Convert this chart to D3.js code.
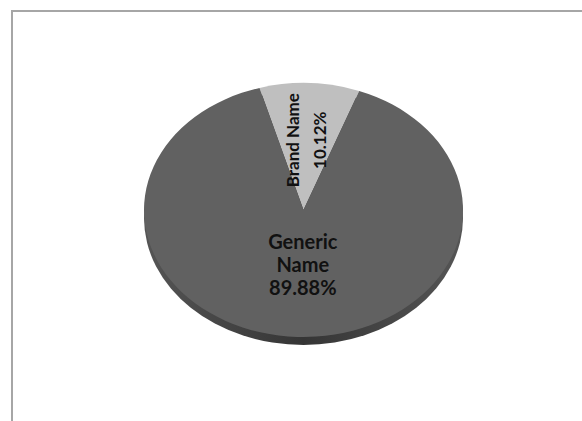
<!DOCTYPE html>
<html>
<head>
<meta charset="utf-8">
<script src="https://cdn.jsdelivr.net/npm/d3@7/dist/d3.min.js"></script>
<style>
  html, body { margin: 0; padding: 0; background: #ffffff; }
  svg { display: block; }
</style>
</head>
<body>
<svg id="chart" width="582" height="421"></svg>
<script>
// ---- data ----
const categories = ["Brand Name", "Generic Name"];
const values = [10.12, 89.88];
const percentLabels = ["10.12%", "89.88%"];
const sliceColors = ["#bfbfbf", "#616161"];

// ---- layout ----
const W = 582, H = 421;
const cx = 303.5, cy = 210;
const rx = 159.5, ry = 127;
const depth = 8;
const startDeg = -16;

const svg = d3.select("#chart");

// frame: top and left lines only
svg.append("line").attr("x1", 12).attr("y1", 11).attr("x2", W).attr("y2", 11)
  .attr("stroke", "#a6a6a6").attr("stroke-width", 2);
svg.append("line").attr("x1", 12).attr("y1", 10).attr("x2", 12).attr("y2", H)
  .attr("stroke", "#a6a6a6").attr("stroke-width", 2);

const data = categories.map((c, i) => ({ name: c, value: values[i], pct: percentLabels[i], color: sliceColors[i] }));

const pie = d3.pie().sort(null).value(d => d.value)
  .startAngle(startDeg * Math.PI / 180)
  .endAngle(startDeg * Math.PI / 180 + 2 * Math.PI);
const arcs = pie(data);

const arc = d3.arc().innerRadius(0).outerRadius(rx);
const sy = ry / rx;

// side (3D depth) — shifted ellipse
const defs = svg.append("defs");
const grad = defs.append("linearGradient").attr("id", "side").attr("x1", 0).attr("x2", 1);
grad.append("stop").attr("offset", "0%").attr("stop-color", "#555");
grad.append("stop").attr("offset", "50%").attr("stop-color", "#353535");
grad.append("stop").attr("offset", "100%").attr("stop-color", "#555");

svg.append("g")
  .attr("transform", `translate(${cx},${cy + depth}) scale(1,${sy})`)
  .append("circle").attr("r", rx).attr("fill", "url(#side)");

// top face
const face = svg.append("g").attr("transform", `translate(${cx},${cy}) scale(1,${sy})`);
face.selectAll("path").data(arcs).enter().append("path")
  .attr("d", arc)
  .attr("fill", d => d.data.color);

// labels
const labelArc = d3.arc().innerRadius(rx * 0.55).outerRadius(rx * 0.55);
const fontFam = "Lato, 'Open Sans', 'Liberation Sans', sans-serif";

// Brand Name (rotated)
const bA = arcs[0];
const bc = labelArc.centroid(bA);
const bx = cx + bc[0], by = cy + bc[1] * sy;
const bg = svg.append("g").attr("transform", `translate(${bx},${by}) rotate(-90)`)
  .attr("font-family", fontFam).attr("font-weight", "bold").attr("font-size", 17)
  .attr("fill", "#111").attr("text-anchor", "middle");
bg.append("text").attr("x", 0).attr("y", -13.5).attr("dy", "0.35em").text(bA.data.name);
bg.append("text").attr("x", 0).attr("y", 13.5).attr("dy", "0.35em").text(bA.data.pct);

// Generic Name
const gA = arcs[1];
const gArc = d3.arc().innerRadius(rx * 0.43).outerRadius(rx * 0.43);
const gc = gArc.centroid(gA);
const gx = cx + gc[0] + 2, gy = cy + gc[1] * sy;
const gt = svg.append("text")
  .attr("font-family", fontFam).attr("font-weight", "bold").attr("font-size", 20)
  .attr("fill", "#111").attr("text-anchor", "middle");
const parts = gA.data.name.split(" ").concat([gA.data.pct]);
parts.forEach((p, i) => {
  gt.append("tspan").attr("x", gx).attr("y", gy + (i - 1) * 23).attr("dy", "0.35em").text(p);
});
</script>
</body>
</html>
